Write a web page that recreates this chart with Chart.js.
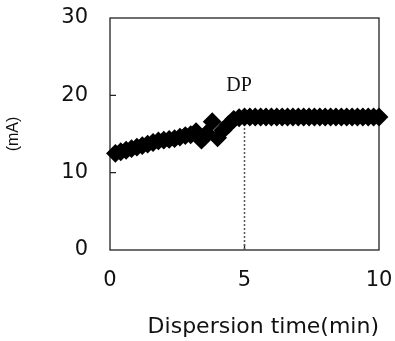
<!DOCTYPE html>
<html lang="en">
<head>
    <meta charset="UTF-8">
    <title>Dispersion time</title>
    <script src="https://cdn.jsdelivr.net/npm/chart.js"></script>
    <style>
        html, body { margin: 0; padding: 0; background: #fff; }
        #wrap { width: 395px; height: 341px; }
    </style>
</head>
<body>
<div id="wrap"><canvas id="chart"></canvas></div>
<script>
    // Data
    const times = [0.2, 0.4, 0.6, 0.8, 1.0, 1.2, 1.4, 1.6, 1.8, 2.0,
                   2.2, 2.4, 2.6, 2.8, 3.0, 3.2, 3.4, 3.6, 3.8, 4.0,
                   4.2, 4.4, 4.6, 4.8, 5.0, 5.2, 5.4, 5.6, 5.8, 6.0,
                   6.2, 6.4, 6.6, 6.8, 7.0, 7.2, 7.4, 7.6, 7.8, 8.0,
                   8.2, 8.4, 8.6, 8.8, 9.0, 9.2, 9.4, 9.6, 9.8, 10.0];
    const currents = [12.5, 12.7, 12.9, 13.1, 13.3, 13.5, 13.7, 13.9, 14.1, 14.2,
                      14.3, 14.4, 14.6, 14.8, 14.9, 15.3, 14.2, 15.1, 16.6, 14.5,
                      15.5, 16.2, 16.9, 17.1, 17.2, 17.2, 17.2, 17.2, 17.2, 17.2,
                      17.2, 17.2, 17.2, 17.2, 17.2, 17.2, 17.2, 17.2, 17.2, 17.2,
                      17.2, 17.2, 17.2, 17.2, 17.2, 17.2, 17.2, 17.2, 17.2, 17.2];
    // dotted marker line at the dispersion point
    const dpTimes = [5, 5];
    const dpCurrents = [0, 17.2];
    const dpLabel = 'DP';
    const dpLabelPos = [4.8, 21.2];
    const xTicks = [0, 5, 10];
    const yTicks = [0, 10, 20, 30];

    const points = times.map((t, i) => ({ x: t, y: currents[i] }));
    const dpLine = dpTimes.map((t, i) => ({ x: t, y: dpCurrents[i] }));
    const sans = 'DejaVu Sans, Verdana, sans-serif';

    // frame box, inward ticks and DP label
    const framePlugin = {
        id: 'frame',
        beforeDatasetsDraw(chart) {
            const { ctx, chartArea: a, scales } = chart;
            ctx.save();
            ctx.strokeStyle = '#222';
            ctx.lineWidth = 1.3;
            ctx.strokeRect(a.left, a.top, a.right - a.left, a.bottom - a.top);
            ctx.beginPath();
            yTicks.slice(1, -1).forEach(v => {
                const y = scales.y.getPixelForValue(v);
                ctx.moveTo(a.left, y);
                ctx.lineTo(a.left + 6, y);
            });
            xTicks.slice(1, -1).forEach(v => {
                const x = scales.x.getPixelForValue(v);
                ctx.moveTo(x, a.bottom);
                ctx.lineTo(x, a.bottom - 6);
            });
            ctx.stroke();
            ctx.restore();
        },
        afterDatasetsDraw(chart) {
            const { ctx, scales } = chart;
            ctx.save();
            ctx.fillStyle = '#111';
            ctx.font = '20px "Liberation Serif", "DejaVu Serif", serif';
            ctx.textAlign = 'center';
            ctx.textBaseline = 'middle';
            ctx.fillText(dpLabel, scales.x.getPixelForValue(dpLabelPos[0]), scales.y.getPixelForValue(dpLabelPos[1]));
            ctx.restore();
        }
    };

    new Chart(document.getElementById('chart'), {
        type: 'scatter',
        data: {
            datasets: [{
                data: points,
                pointStyle: 'rectRot',
                pointRadius: 8,
                pointBorderWidth: 2,
                backgroundColor: '#000',
                borderColor: '#000',
                clip: false,
                order: 1
            }, {
                data: dpLine,
                showLine: true,
                pointRadius: 0,
                borderColor: '#555',
                borderWidth: 1.5,
                borderDash: [2, 2],
                order: 2
            }]
        },
        options: {
            responsive: true,
            maintainAspectRatio: false,
            animation: false,
            layout: { padding: { left: 0, right: 16, top: 18, bottom: 0 } },
            plugins: { legend: { display: false }, tooltip: { enabled: false } },
            scales: {
                x: {
                    type: 'linear',
                    min: 0,
                    max: 10,
                    afterBuildTicks: s => { s.ticks = xTicks.map(v => ({ value: v })); },
                    afterFit: s => { s.height = 91; s.paddingLeft = 0; s.paddingRight = 0; },
                    grid: { display: false, drawTicks: false },
                    border: { display: false },
                    ticks: {
                        color: '#111',
                        padding: 18,
                        maxRotation: 0,
                        font: { family: sans, size: 21 }
                    },
                    title: {
                        display: true,
                        text: 'Dispersion time(min)',
                        align: 'end',
                        color: '#111',
                        padding: 1,
                        font: { family: sans, size: 22 }
                    }
                },
                y: {
                    min: 0,
                    max: 30,
                    afterBuildTicks: s => { s.ticks = yTicks.map(v => ({ value: v })); },
                    afterFit: s => { s.width = 110; s.paddingTop = 0; s.paddingBottom = 0; },
                    grid: { display: false, drawTicks: false },
                    border: { display: false },
                    ticks: {
                        color: '#111',
                        padding: 22,
                        font: { family: sans, size: 21 }
                    },
                    title: {
                        display: true,
                        text: '(mA)',
                        color: '#111',
                        padding: 4,
                        font: { family: '"Liberation Sans", Arial, sans-serif', size: 16 }
                    }
                }
            }
        },
        plugins: [framePlugin]
    });
</script>
</body>
</html>
